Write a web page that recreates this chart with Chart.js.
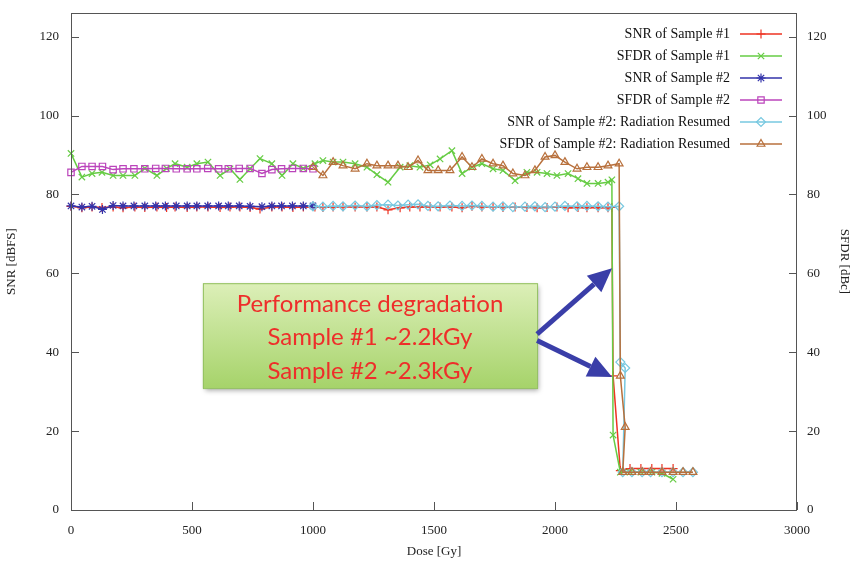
<!DOCTYPE html>
<html>
<head>
<meta charset="utf-8">
<script src="https://cdn.jsdelivr.net/npm/chart.js@4.4.1/dist/chart.umd.min.js"></script>
<style>
  html, body { margin: 0; padding: 0; background: #fff; }
</style>
</head>
<body>
<canvas id="chart" width="856" height="570"></canvas>
<script>
// Sample #1
const dose1 = [0, 45, 87, 128, 174, 215, 264, 305, 355, 395, 430, 480, 520, 566, 616, 657, 698, 740, 781, 830,
  872, 917, 960, 1008, 1041, 1083, 1124, 1174, 1223, 1264, 1310, 1360, 1400, 1442, 1484, 1525, 1574, 1616, 1657, 1698,
  1744, 1785, 1835, 1884, 1926, 1967, 2008, 2054, 2095, 2132, 2178, 2219, 2235, 2240, 2270, 2310, 2355, 2400, 2442, 2488];
const snr1 = [77.0, 76.6, 76.8, 76.7, 76.8, 76.6, 76.8, 76.7, 76.8, 76.7, 76.8, 76.7, 76.8, 76.8, 76.7, 76.8, 76.8, 76.7, 76.3, 76.8,
  76.8, 76.7, 76.8, 76.8, 76.7, 76.8, 76.9, 76.8, 76.8, 76.8, 76.1, 76.6, 76.8, 76.8, 76.9, 76.8, 76.8, 76.6, 77.0, 76.8,
  76.9, 76.7, 76.8, 76.7, 76.6, 76.7, 76.8, 76.6, 76.7, 76.6, 76.6, 76.6, 76.7, 34, 10, 10.5, 10.5, 10.5, 10.5, 10.5];
const sfdr1 = [90.4, 84.4, 85.3, 85.6, 84.8, 84.8, 84.8, 86.6, 84.8, 86.6, 87.8, 86.9, 87.8, 88.2, 84.8, 86.5, 83.8, 86.5, 89.1, 87.8,
  84.8, 87.8, 86.6, 87.8, 88.6, 88.2, 88.2, 87.8, 86.9, 85.0, 83.1, 86.9, 87.3, 86.9, 87.5, 89.0, 91.1, 85.3, 86.9, 87.8,
  86.5, 86.1, 83.5, 85.6, 85.6, 85.3, 84.8, 85.3, 84.0, 82.8, 82.8, 83.1, 83.7, 19, 9.6, 9.6, 9.6, 9.6, 9.3, 7.8];

// Sample #2
const dose2 = [0, 45, 87, 130, 174, 215, 260, 305, 350, 390, 435, 480, 520, 565, 610, 650, 695, 740, 789, 830, 870, 915, 960, 1000];
const snr2 = [77.1, 76.8, 77.0, 76.2, 77.2, 77.1, 77.1, 77.1, 77.1, 77.1, 77.1, 77.1, 77.1, 77.1, 77.1, 77.1, 77.1, 77.0, 76.9, 77.1, 77.1, 77.1, 77.1, 77.1];
const sfdr2 = [85.6, 87.1, 87.1, 87.1, 86.3, 86.5, 86.5, 86.5, 86.6, 86.6, 86.5, 86.5, 86.5, 86.6, 86.5, 86.5, 86.6, 86.6, 85.3, 86.3, 86.5, 86.6, 86.6, 86.5];

// Sample #2, radiation resumed
const dose3 = [1000, 1041, 1083, 1124, 1174, 1223, 1264, 1310, 1351, 1393, 1434, 1475, 1517, 1566, 1616, 1657, 1698, 1744, 1785, 1826,
  1876, 1917, 1959, 2000, 2041, 2091, 2132, 2178, 2219, 2265, 2270, 2290, 2280, 2318, 2360, 2395, 2442, 2488, 2529, 2570];
const snr3 = [77.0, 76.9, 77.1, 77.0, 77.2, 77.0, 77.3, 77.4, 77.2, 77.4, 77.5, 77.1, 77.0, 77.2, 77.1, 77.2, 77.1, 76.9, 77.0, 76.8,
  76.9, 77.0, 76.8, 76.9, 77.1, 77.0, 77.1, 77.0, 76.9, 77.0, 37.5, 36, 9.6, 9.6, 9.6, 9.6, 9.6, 9.6, 9.6, 9.6];
const sfdr3 = [86.9, 84.8, 88.2, 87.3, 86.5, 87.8, 87.3, 87.3, 87.3, 86.9, 88.6, 86.1, 86.1, 86.1, 89.5, 86.9, 89.0, 87.8, 87.3, 85.3,
  84.8, 86.1, 89.5, 89.9, 88.2, 86.5, 86.9, 86.9, 87.3, 87.8, 34, 21, 9.6, 9.6, 9.6, 9.6, 9.6, 9.6, 9.6, 9.6];

const seriesLabels = ['SNR of Sample #1', 'SFDR of Sample #1', 'SNR of Sample #2', 'SFDR of Sample #2',
  'SNR of Sample #2: Radiation Resumed', 'SFDR of Sample #2: Radiation Resumed'];
const noteLines = ['Performance degradation', 'Sample #1 ~2.2kGy', 'Sample #2 ~2.3kGy'];

const serif = '"Liberation Serif", "DejaVu Serif", serif';

const toPoints = (xs, ys) => xs.map((x, i) => ({ x: x, y: ys[i] }));

const series = [
  { xs: dose1, ys: snr1, color: '#ee3322', style: 'cross' },
  { xs: dose1, ys: sfdr1, color: '#66cc44', style: 'crossRot' },
  { xs: dose2, ys: snr2, color: '#3333aa', style: 'star' },
  { xs: dose2, ys: sfdr2, color: '#bb44bb', style: 'rect' },
  { xs: dose3, ys: snr3, color: '#77c8e0', style: 'rectRot' },
  { xs: dose3, ys: sfdr3, color: '#b8703c', style: 'triangle' }
];

const datasets = series.map((s, i) => ({
  label: seriesLabels[i],
  data: toPoints(s.xs, s.ys),
  borderColor: s.color,
  backgroundColor: 'rgba(0,0,0,0)',
  pointBorderColor: s.color,
  pointBackgroundColor: 'rgba(0,0,0,0)',
  pointStyle: s.style,
  pointRadius: 4.5,
  pointBorderWidth: 1.2,
  borderWidth: 1.5,
  tension: 0,
  fill: false,
  clip: false,
  order: 6 - i
}));

// frame, inward ticks, legend, note box and arrows
const decor = {
  id: 'decor',
  afterDraw(chart) {
    const ctx = chart.ctx;
    const area = chart.chartArea;
    const xs = chart.scales.x, ys = chart.scales.y;
    ctx.save();

    ctx.strokeStyle = '#555';
    ctx.lineWidth = 1;
    ctx.strokeRect(area.left + 0.5, area.top + 0.5, area.right - area.left - 1, area.bottom - area.top);
    ctx.beginPath();
    xs.ticks.forEach(t => {
      const px = Math.round(xs.getPixelForValue(t.value)) + 0.5;
      ctx.moveTo(px, area.bottom);
      ctx.lineTo(px, area.bottom - 8);
    });
    ys.ticks.forEach(t => {
      const py = Math.round(ys.getPixelForValue(t.value)) + 0.5;
      ctx.moveTo(area.left, py);
      ctx.lineTo(area.left + 8, py);
      ctx.moveTo(area.right, py);
      ctx.lineTo(area.right - 8, py);
    });
    ctx.stroke();

    // legend
    ctx.font = '14px ' + serif;
    ctx.textAlign = 'right';
    ctx.textBaseline = 'middle';
    chart.data.datasets.forEach((ds, i) => {
      const y = 34 + i * 22;
      ctx.fillStyle = '#111';
      ctx.fillText(ds.label, 730, y);
      ctx.strokeStyle = ds.borderColor;
      ctx.lineWidth = ds.borderWidth;
      ctx.beginPath();
      ctx.moveTo(740, y);
      ctx.lineTo(782, y);
      ctx.stroke();
      ctx.fillStyle = 'rgba(0,0,0,0)';
      ctx.lineWidth = ds.pointBorderWidth;
      Chart.helpers.drawPoint(ctx, { pointStyle: ds.pointStyle, radius: ds.pointRadius, borderWidth: ds.pointBorderWidth, rotation: 0 }, 761, y);
    });

    // note box
    const bx0 = xs.getPixelForValue(545), bx1 = xs.getPixelForValue(1926);
    const by0 = ys.getPixelForValue(57.5), by1 = ys.getPixelForValue(30.9);
    ctx.save();
    ctx.shadowColor = 'rgba(0,0,0,0.35)';
    ctx.shadowBlur = 5;
    ctx.shadowOffsetX = 2;
    ctx.shadowOffsetY = 3;
    const grad = ctx.createLinearGradient(0, by0, 0, by1);
    grad.addColorStop(0, '#dcefb8');
    grad.addColorStop(1, '#a6d36a');
    ctx.fillStyle = grad;
    ctx.fillRect(bx0, by0, bx1 - bx0, by1 - by0);
    ctx.restore();
    ctx.strokeStyle = '#93c160';
    ctx.lineWidth = 1;
    ctx.strokeRect(bx0 + 0.5, by0 + 0.5, bx1 - bx0, by1 - by0);
    ctx.fillStyle = '#ee2e2a';
    ctx.font = '24px Lato, "Open Sans", sans-serif';
    ctx.textAlign = 'center';
    ctx.textBaseline = 'middle';
    const cx = (bx0 + bx1) / 2;
    noteLines.forEach((t, i) => ctx.fillText(t, cx, by0 + 21 + i * 33.5));

    // arrows
    const arrow = (x0, y0, x1, y1) => {
      const a = Math.atan2(y1 - y0, x1 - x0);
      const len = 24, half = 11;
      const bxp = x1 - len * Math.cos(a), byp = y1 - len * Math.sin(a);
      ctx.strokeStyle = '#3a3ea8';
      ctx.fillStyle = '#3a3ea8';
      ctx.lineWidth = 5;
      ctx.beginPath();
      ctx.moveTo(x0, y0);
      ctx.lineTo(bxp, byp);
      ctx.stroke();
      ctx.beginPath();
      ctx.moveTo(x1, y1);
      ctx.lineTo(bxp + half * Math.sin(a), byp - half * Math.cos(a));
      ctx.lineTo(bxp - half * Math.sin(a), byp + half * Math.cos(a));
      ctx.closePath();
      ctx.fill();
    };
    arrow(bx1, ys.getPixelForValue(44.6), xs.getPixelForValue(2236), ys.getPixelForValue(61.3));
    arrow(bx1, ys.getPixelForValue(43.0), xs.getPixelForValue(2236), ys.getPixelForValue(33.7));

    ctx.restore();
  }
};

const tickFont = { family: serif, size: 13 };
const plainNum = v => String(v);
const fixY = w => s => { s.width = w; s.paddingTop = 0; s.paddingBottom = 0; };

new Chart(document.getElementById('chart'), {
  type: 'line',
  data: { datasets: datasets },
  options: {
    responsive: false,
    animation: false,
    devicePixelRatio: 1,
    layout: { padding: { top: 13, right: 0, left: 0, bottom: 0 } },
    plugins: { legend: { display: false }, tooltip: { enabled: false } },
    scales: {
      x: {
        type: 'linear',
        min: 0,
        max: 3000,
        ticks: { stepSize: 500, color: '#222', font: tickFont, padding: 13, maxRotation: 0, callback: plainNum },
        grid: { drawOnChartArea: false, drawTicks: false },
        border: { display: false },
        title: { display: true, text: 'Dose [Gy]', color: '#222', font: tickFont, padding: { top: 4, bottom: 11 } },
        afterFit: s => { s.height = 60; }
      },
      y: {
        position: 'left',
        min: 0,
        max: 126,
        ticks: { stepSize: 20, includeBounds: false, color: '#222', font: tickFont, padding: 12, callback: plainNum },
        grid: { drawOnChartArea: false, drawTicks: false },
        border: { display: false },
        title: { display: true, text: 'SNR [dBFS]', color: '#222', font: tickFont, padding: { top: 4, bottom: 4 } },
        afterFit: fixY(71)
      },
      y2: {
        position: 'right',
        min: 0,
        max: 126,
        ticks: { stepSize: 20, includeBounds: false, color: '#222', font: tickFont, padding: 10, callback: plainNum },
        grid: { drawOnChartArea: false, drawTicks: false },
        border: { display: false },
        title: { display: true, text: 'SFDR [dBc]', color: '#222', font: tickFont, padding: { top: 4, bottom: 4 } },
        afterFit: fixY(59)
      }
    }
  },
  plugins: [decor]
});
</script>
</body>
</html>
